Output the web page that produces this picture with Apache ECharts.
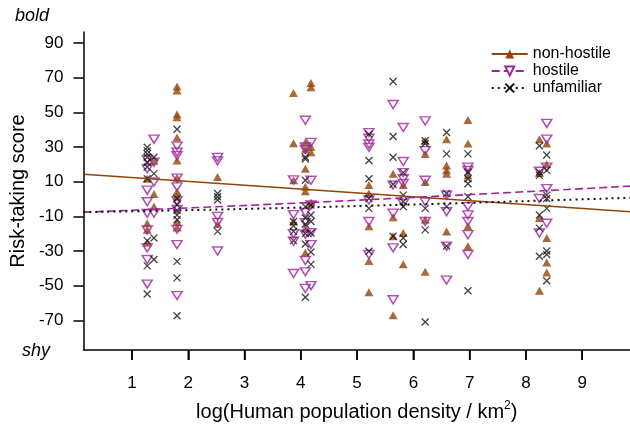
<!DOCTYPE html>
<html>
<head>
<meta charset="utf-8">
<script src="https://cdn.jsdelivr.net/npm/echarts@6/dist/echarts.min.js"></script>
<style>html,body{margin:0;padding:0;background:#fff;}#c{width:630px;height:429px;}</style>
</head>
<body>
<div id="c"></div>
<script>
// ---- data ----
const columnX = [1.27, 1.39, 1.80, 2.52, 3.87, 4.08, 4.18, 5.21, 5.64, 5.82, 6.21, 6.59, 6.97, 8.24, 8.37];
const nonHostile = [
  [11.7, -14, -17.7, -25.3],
  [22, 2.8, -4.4],
  [64.9, 62.5, 48.9, 47.2, 35.5, 22.2, 12.3, 4.1, 1.3, -13.4, -16.4],
  [12.7, -14.5],
  [61.1, 32.1, 10.8, -13],
  [32.5, 28.5, 17.4, 7, 4.5, -17, -31],
  [66.9, 64.5, 30, 27, -2],
  [8, 3.2, -15.8, -35.8, -53.8],
  [14.6, -10.6, -21.5, -67.1],
  [8, -19.6, -37.7],
  [33.6, 26, 9.8, -12, -42],
  [34.5, 19.3, 16.5, 14.6, -18.7],
  [45.5, 32, 13.6, -15.8, -27.2],
  [34.5, 15, -11, -52.9],
  [32, 20, -22.5, -36.7, -42.4]
];
const hostile = [
  [22.8, 17.4, 5.1, -1.6, -8.3, -17.8, -28.2, -34.9, -49.1],
  [34.5, 21.2, 9.8, -8.2],
  [30.5, 27, 25, 12, 7, -1, -6, -17.5, -26.3, -55.7],
  [24, 22, -10, -13.5, -30],
  [11, -9, -20, -24.4, -43],
  [45.4, 30, 28.5, -7.9, -13.6, -20.3, -35.5, -42, -51.6],
  [32.6, 10.8, -3.5, -19.4, -26.3, -50],
  [38.3, 35, 31.7, 29.8, -0.6, -13, -32],
  [54.5, 8, -8.2, -28.2, -58.1],
  [41.2, 21.6, 15.2, 11.7, 8.9, -2.5],
  [45, 27.9, 10.8, -1.6, -13],
  [2.2, -7.3, -27.2, -46.8],
  [18.4, 16.5, -4.4, -9.2, -13, -20.6, -32],
  [16, 0.3, -19.6],
  [43.6, 34.5, 18.4, 6, -14]
];
const unfamiliar = [
  [29.8, 27.9, 26, 24.1, 21.2, 18.4, 11.7, -24, -38.6, -54.8],
  [24.1, 14.6, -22.5, -34.9],
  [40.2, 0.3, -3.5, -6.5, -9.3, -12, -36, -45.5, -67.3],
  [3.2, 1.3, -0.6, -18.7],
  [-13, -15.5, -18.7, -24],
  [24.1, 23, 10.8, -4.4, -11, -14.6, -20, -26, -56.7],
  [-3.5, -9.2, -13, -19.6, -30.6, -37.7],
  [37.4, 22.2, 11.7, 0.3, -5.4, -30.1],
  [67.8, 36, 24.1, 8.5, -21.5],
  [15.2, 2.2, -1.6, -4.4, -22.5, -26.3],
  [33.6, 32, -5.4, -17.8, -71],
  [38.3, 26, 3.2, -4.4, -27.2],
  [26, 15.6, 11.7, 8.8, 1.3, -52.9],
  [30.7, 15.5, 13.6, -9.2, -16.8, -33],
  [25.4, 16.5, 2.2, 0.3, -5.4, -30, -32, -47.2]
];
const fitX = [0.137, 4.18, 9.85];
const fitNonHostile = [14.2, 5.25, -7.3];
const fitHostile = [-7.6, -2.0, 7.4];
const fitUnfamiliar = [-7.6, -4.8, 0.7];
const xTicks = [1, 2, 3, 4, 5, 6, 7, 8, 9];
const yTicks = [-70, -50, -30, -10, 10, 30, 50, 70, 90];
const seriesNames = ['non-hostile', 'hostile', 'unfamiliar'];

// ---- build ----
function pairs(cols) {
  const out = [];
  cols.forEach((vals, i) => vals.forEach(v => out.push([columnX[i], v])));
  return out;
}
function fitPairs(ys) { return fitX.map((x, i) => [x, ys[i]]); }

const BROWN = '#924508';
const PURPLE = '#a0239e';
const BLACK = '#111111';
const XPATH = 'path://M0,0L10,10M0,10L10,0';
const FONT = '"Liberation Sans", Arial, sans-serif';
const X_MIN = 0.137, X_MAX = 9.85;
const Y_MIN = -87.1, Y_MAX = 96.3;

const chart = echarts.init(document.getElementById('c'), null, {renderer: 'canvas'});
chart.setOption({
  animation: false,
  backgroundColor: '#fff',
  textStyle: {fontFamily: FONT, color: '#000'},
  grid: {left: 82, right: 0, top: 32, bottom: 76, containLabel: false},
  legend: {
    orient: 'vertical', right: 14, top: 41,
    data: seriesNames,
    itemWidth: 36, itemHeight: 11, itemGap: 1,
    textStyle: {fontSize: 16, color: '#000', fontFamily: FONT},
    selectedMode: false
  },
  xAxis: {
    type: 'value', min: X_MIN, max: X_MAX, position: 'bottom',
    splitLine: {show: false},
    axisLine: {show: true, onZero: false, lineStyle: {color: '#000', width: 1.5}},
    axisTick: {show: true, inside: false, customValues: xTicks, length: 10, lineStyle: {color: '#000', width: 1.5}},
    axisLabel: {show: true, customValues: xTicks, fontSize: 17, color: '#000', margin: 25, fontFamily: FONT},
    name: '{a|log(Human population density / km}{s|2}{a|)}',
    nameLocation: 'middle', nameGap: 50,
    nameTextStyle: {
      rich: {
        a: {fontSize: 20, color: '#000', fontFamily: FONT, lineHeight: 24},
        s: {fontSize: 12, color: '#000', fontFamily: FONT, padding: [0, 0, 12, 0], lineHeight: 24}
      }
    }
  },
  yAxis: {
    type: 'value', min: Y_MIN, max: Y_MAX,
    splitLine: {show: false},
    axisLine: {show: true, onZero: false, lineStyle: {color: '#000', width: 1.5}},
    axisTick: {show: true, inside: false, customValues: yTicks, length: 10, lineStyle: {color: '#000', width: 1.5}},
    axisLabel: {customValues: yTicks, fontSize: 17, color: '#000', margin: 20, fontFamily: FONT},
    name: 'Risk-taking score', nameLocation: 'middle', nameGap: 48,
    nameTextStyle: {fontSize: 20, color: '#000', fontFamily: FONT}
  },
  graphic: [
    {type: 'text', left: 15, top: 7, style: {text: 'bold', fontSize: 18, fontStyle: 'italic', fontFamily: FONT, fill: '#000'}},
    {type: 'text', left: 22, top: 342, style: {text: 'shy', fontSize: 18, fontStyle: 'italic', fontFamily: FONT, fill: '#000'}}
  ],
  series: [
    {name: 'non-hostile', type: 'line', data: fitPairs(fitNonHostile), smooth: false, showSymbol: false,
      symbol: 'triangle', symbolSize: 10, z: 5,
      itemStyle: {color: BROWN}, lineStyle: {color: BROWN, width: 1.5, type: 'solid'}},
    {name: 'hostile', type: 'line', data: fitPairs(fitHostile), smooth: true, showSymbol: false,
      symbol: 'triangle', symbolRotate: 180, symbolSize: 10, z: 5,
      itemStyle: {color: '#fff', borderColor: PURPLE, borderWidth: 1.5}, lineStyle: {color: PURPLE, width: 1.6, type: [8, 4]}},
    {name: 'unfamiliar', type: 'line', data: fitPairs(fitUnfamiliar), smooth: true, showSymbol: false,
      symbol: XPATH, symbolSize: 8, z: 5,
      itemStyle: {color: 'rgba(0,0,0,0)', borderColor: BLACK, borderWidth: 1.5}, lineStyle: {color: BLACK, width: 2, type: [2, 4]}},
    {name: 'non-hostile', type: 'scatter', data: pairs(nonHostile), symbol: 'triangle', symbolSize: [9, 8], z: 2,
      itemStyle: {color: BROWN}},
    {name: 'hostile', type: 'scatter', data: pairs(hostile), symbol: 'triangle', symbolRotate: 180, symbolSize: [10, 8], z: 3,
      itemStyle: {color: 'rgba(255,255,255,0)', borderColor: PURPLE, borderWidth: 1.5}},
    {name: 'unfamiliar', type: 'scatter', data: pairs(unfamiliar), symbol: XPATH, symbolSize: 7, z: 4,
      itemStyle: {color: 'rgba(0,0,0,0)', borderColor: BLACK, borderWidth: 1.3}},
    {type: 'custom', silent: true, clip: false, z: 10,
      data: xTicks.map(v => [v, Y_MIN]),
      renderItem: function (params, api) {
        const p = api.coord([api.value(0), api.value(1)]);
        return {type: 'line', shape: {x1: p[0], y1: p[1], x2: p[0], y2: p[1] + 10},
          style: {stroke: '#000', lineWidth: 1.5}};
      }}
  ]
});
</script>
</body>
</html>
